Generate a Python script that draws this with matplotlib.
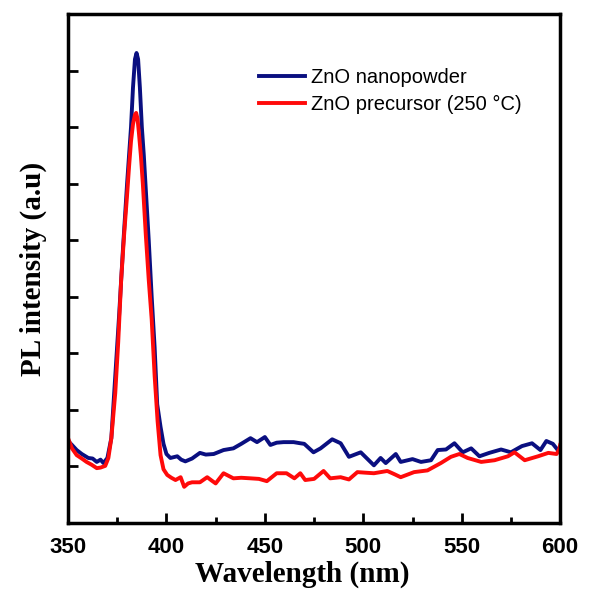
"""
PL spectra of ZnO nanopowder vs ZnO precursor - recreated plot
"""

import matplotlib
matplotlib.use('Agg')
import matplotlib.pyplot as plt
from matplotlib.ticker import MultipleLocator, NullFormatter

# ZnO nanopowder (blue)
wl_powder = [350, 352, 354.4, 357, 360.3, 362.5, 364.6, 366.5, 368, 370,
             372, 374, 376, 378, 380, 381, 382, 383, 384, 384.8,
             385.6, 386.5, 387.5, 388.5, 389.5, 391, 392.5, 394, 395.3, 397,
             398.5, 400, 402,
             405.5, 407.5, 409.6, 413, 417, 420, 424, 429, 434, 438,
             442.7, 446, 450, 452.8, 456, 459.5, 464.6, 468, 470, 474.7,
             478.3, 484.2, 488.5, 492.7, 498.7, 505.4, 508.8, 511.4, 516.5, 519,
             525, 529.3, 534.4, 537.8, 542, 546.3, 550.5, 554.8, 559, 564,
             570, 575, 580.6, 585.7, 590, 593, 596.3, 598.8, 600]
pl_powder = [1.45, 1.38, 1.29, 1.22, 1.15, 1.14, 1.08, 1.12, 1.06, 1.15,
             1.5, 2.6, 3.7, 4.9, 6.0, 6.5, 7.0, 7.7, 8.2, 8.31,
             8.2, 7.7, 7.0, 6.5, 5.9, 5.0, 4.0, 3.1, 2.1, 1.7,
             1.4, 1.22, 1.15,
             1.18, 1.12, 1.09, 1.14, 1.24, 1.21, 1.22, 1.29, 1.32, 1.40,
             1.50, 1.43, 1.52, 1.38, 1.42, 1.43, 1.43, 1.41, 1.40, 1.25,
             1.32, 1.48, 1.41, 1.17, 1.25, 1.02, 1.15, 1.06, 1.22, 1.08,
             1.13, 1.08, 1.11, 1.29, 1.30, 1.41, 1.25, 1.32, 1.18, 1.24,
             1.30, 1.25, 1.36, 1.41, 1.29, 1.45, 1.40, 1.29, 1.30]

# ZnO precursor 250 C (red)
wl_prec = [350, 352, 354.4, 357, 359.4, 362, 364.6, 366.5, 368.9, 370.5,
           372, 374, 375.5, 377, 378.5, 380, 381, 382, 383, 384,
           384.6, 385.3, 386, 387, 388, 389.5, 391, 392.5, 394, 395.5,
           397, 398.5, 400.4,
           402.5, 404.6, 407.2, 409, 411, 413, 417, 420.7, 423, 425,
           429, 434, 438, 442.7, 447, 451, 456, 461, 465, 468,
           470.5, 475, 479.8, 483.2, 488.5, 492.7, 497, 501, 505.4, 512.2,
           516, 519, 525.8, 532.6, 539.4, 544.5, 548.8, 553, 559.9, 566.7,
           573.5, 576.8, 582, 588.8, 594, 598.2, 599.5, 600]
pl_prec = [1.50, 1.32, 1.20, 1.14, 1.08, 1.03, 0.97, 0.98, 1.01, 1.15,
           1.5, 2.3, 3.2, 4.3, 5.1, 5.8, 6.3, 6.75, 7.05, 7.22,
           7.25, 7.15, 6.9, 6.5, 6.0, 5.1, 4.3, 3.6, 2.6, 1.8,
           1.2, 0.95, 0.85,
           0.80, 0.76, 0.81, 0.64, 0.70, 0.72, 0.72, 0.81, 0.75, 0.70,
           0.88, 0.79, 0.80, 0.79, 0.78, 0.74, 0.88, 0.88, 0.79, 0.88,
           0.76, 0.78, 0.92, 0.79, 0.81, 0.77, 0.90, 0.89, 0.88, 0.92,
           0.86, 0.81, 0.90, 0.93, 1.06, 1.17, 1.22, 1.15, 1.08, 1.11,
           1.18, 1.25, 1.11, 1.18, 1.24, 1.22, 1.30, 1.38]

labels = ['ZnO nanopowder', 'ZnO precursor (250 °C)']
x_ticks = [350, 400, 450, 500, 550, 600]

fig = plt.figure(figsize=(5.89, 5.94), dpi=100)
ax = fig.add_axes([0.1155, 0.1195, 0.8355, 0.857])

ax.plot(wl_powder, pl_powder, color='#0a0f80', lw=2.8, label=labels[0])
ax.plot(wl_prec, pl_prec, color='#ff0a0a', lw=2.8, label=labels[1])

ax.set_xlim(350, 600)
ax.set_ylim(0, 9)
ax.set_xticks(x_ticks)
ax.xaxis.set_minor_locator(MultipleLocator(25))
ax.set_yticks(range(1, 9))
ax.yaxis.set_major_formatter(NullFormatter())

ax.tick_params(which='major', direction='in', length=7, width=2, top=False, right=False)
ax.tick_params(which='minor', direction='in', length=4, width=2, top=False, right=False)
ax.tick_params(axis='x', which='major', pad=10)
for lbl in ax.get_xticklabels():
    lbl.set_fontfamily('Liberation Sans')
    lbl.set_fontweight('bold')
    lbl.set_fontsize(16)

for sp in ax.spines.values():
    sp.set_linewidth(2.5)

ax.set_xlabel('Wavelength (nm)', fontfamily='Liberation Serif', fontweight='bold',
              fontsize=21)
ax.xaxis.set_label_coords(0.476, -0.074)
ax.set_ylabel('PL intensity (a.u)', fontfamily='Liberation Serif', fontweight='bold',
              fontsize=21, labelpad=12)

ax.legend(loc='upper left', bbox_to_anchor=(0.372, 0.91), frameon=False,
          prop={'family': 'Liberation Sans', 'size': 14.5}, handlelength=2.3,
          handletextpad=0.25, labelspacing=0.4, borderaxespad=0)

fig.savefig('out.png', dpi=100)
